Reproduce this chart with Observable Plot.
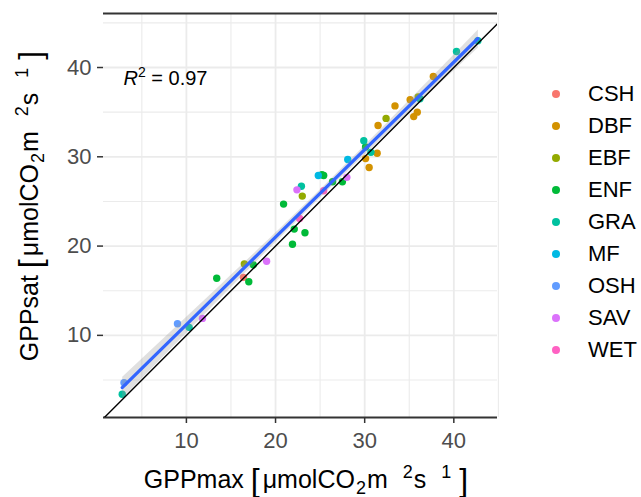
<!DOCTYPE html>
<html>
<head>
<meta charset="utf-8">
<script src="https://cdn.jsdelivr.net/npm/d3@7"></script>
<script src="https://cdn.jsdelivr.net/npm/@observablehq/plot@0.6"></script>
<style>
  body { margin: 0; background: #fff; font-family: "Liberation Sans", Arial, sans-serif; }
  #wrap { position: relative; width: 641px; height: 497px; overflow: hidden; }
  #legend { position: absolute; left: 0; top: 0; }
  .item { position: absolute; display: flex; align-items: center; height: 32px; font-size: 22px; color: #000; white-space: nowrap; }
  .dot { width: 8px; height: 8px; border-radius: 50%; margin-right: 28px; }
</style>
</head>
<body>
<div id="wrap"><div id="legend"></div></div>
<script>
// ---- data ----
const siteTypes = ["CSH", "DBF", "EBF", "ENF", "GRA", "MF", "OSH", "SAV", "WET"];
const typeColors = ["#F8766D", "#D39200", "#93AA00", "#00BA38", "#00C19F", "#00B9E3", "#619CFF", "#DB72FB", "#FF61C3"];

const siteType = [
  "CSH",
  "DBF", "DBF", "DBF", "DBF", "DBF", "DBF", "DBF", "DBF", "DBF",
  "EBF", "EBF", "EBF", "EBF",
  "ENF", "ENF", "ENF", "ENF", "ENF", "ENF", "ENF", "ENF", "ENF", "ENF", "ENF", "ENF",
  "GRA", "GRA", "GRA", "GRA", "GRA", "GRA", "GRA", "GRA",
  "MF", "MF",
  "OSH", "OSH",
  "SAV", "SAV", "SAV", "SAV",
  "WET", "WET"
];
const gppMax = [
  16.4,
  30.1, 30.5, 31.4, 31.5, 33.4, 35.1, 35.9, 35.5, 37.7,
  16.5, 23.0, 32.4, 36.0,
  13.4, 17.0, 17.5, 21.9, 22.1, 23.3, 20.9, 25.2, 25.4, 26.4, 27.5, 30.1,
  2.8, 10.3, 22.9, 29.9, 30.7, 36.2, 40.3, 42.7,
  24.8, 28.1,
  3.0, 9.0,
  11.8, 19.0, 22.4, 28.0,
  22.7, 25.4
];
const gppSat = [
  16.5,
  29.8, 28.8, 30.4, 33.5, 35.7, 36.4, 35.0, 34.5, 39.0,
  18.0, 25.6, 34.3, 36.7,
  16.4, 16.0, 17.9, 20.2, 21.9, 21.5, 24.7, 28.0, 27.9, 27.2, 27.2, 31.1,
  3.4, 10.9, 26.7, 31.8, 30.5, 36.5, 41.8, 43.0,
  27.9, 29.7,
  4.7, 11.3,
  11.9, 18.3, 26.3, 27.7,
  23.1, 26.2
];
const majorTicks = [10, 20, 30, 40];
const minorTicks = [5, 15, 25, 35, 45];
const xDomain = [0.7, 44.9];
const yDomain = [0.8, 46.05];
const r2Label = "R2 = 0.97";
const xTitle = "GPPmax";
const yTitle = "GPPsat";

// ---- build ----
const data = gppMax.map((x, i) => ({ x, y: gppSat[i], type: siteType[i] }));
const gridColor = "#EBEBEB";

const plot = Plot.plot({
  width: 641,
  height: 497,
  marginLeft: 103,
  marginRight: 144,
  marginTop: 13,
  marginBottom: 80,
  style: { fontFamily: "Liberation Sans, Arial, sans-serif", background: "#fff" },
  x: { domain: xDomain, label: null },
  y: { domain: yDomain, label: null },
  color: { domain: siteTypes, range: typeColors },
  marks: [
    Plot.gridX(minorTicks, { stroke: gridColor, strokeOpacity: 1, strokeWidth: 1.1 }),
    Plot.gridY(minorTicks, { stroke: gridColor, strokeOpacity: 1, strokeWidth: 1.1 }),
    Plot.gridX(majorTicks, { stroke: gridColor, strokeOpacity: 1, strokeWidth: 1.8 }),
    Plot.gridY(majorTicks, { stroke: gridColor, strokeOpacity: 1, strokeWidth: 1.8 }),
    Plot.axisX(majorTicks, { tickSize: 6, tickPadding: 9, fontSize: 22, fill: "#4D4D4D", stroke: "#333", strokeWidth: 1.5, label: null }),
    Plot.axisY(majorTicks, { tickSize: 6, tickPadding: 6, fontSize: 22, fill: "#4D4D4D", stroke: "#333", strokeWidth: 1.5, label: null }),
    Plot.ruleY([yDomain[0], yDomain[1]], { stroke: "#333", strokeWidth: 2 }),
    Plot.dot(data, { x: "x", y: "y", fill: "type", r: 3.7 }),
    Plot.linearRegressionY(data, { x: "x", y: "y", stroke: "#3366FF", strokeWidth: 3.2, fill: "#999999", fillOpacity: 0.3 }),
    Plot.line(xDomain, { x: d => d, y: d => d, stroke: "#000", strokeWidth: 1.4, clip: true }),
    Plot.text([r2Label], { frameAnchor: "top-left", dx: 20, dy: 57, fontSize: 20, fill: "#000", textAnchor: "start", lineAnchor: "top" })
  ]
});

document.getElementById("wrap").prepend(plot);

const svg = d3.select(plot);

// R² label with italic R and superscript
svg.selectAll('g[aria-label="text"] text').each(function () {
  const t = d3.select(this);
  t.text(null);
  t.append("tspan").attr("font-style", "italic").text("R");
  t.append("tspan").attr("font-size", 14).attr("dy", -8).text("2");
  t.append("tspan").attr("dy", 8).text(" = 0.97");
});

function unitTitle(t, name) {
  const small = 18, big = 32, gap = 15;
  t.append("tspan").text(name + " ");
  t.append("tspan").attr("font-size", big).attr("dy", 3).text("[");
  t.append("tspan").attr("dy", -3).attr("dx", 3).text("μmolCO");
  t.append("tspan").attr("font-size", small).attr("dy", 6).attr("dx", 1).text("2");
  t.append("tspan").attr("dy", -6).attr("dx", 1).text("m");
  t.append("tspan").attr("font-size", small).attr("dy", -10).attr("dx", gap).text("2");
  t.append("tspan").attr("dy", 10).attr("dx", 1).text("s");
  t.append("tspan").attr("font-size", small).attr("dy", -10).attr("dx", gap).text("1");
  t.append("tspan").attr("font-size", big).attr("dy", 13).attr("dx", 8).text("]");
}

const xt = svg.append("text")
  .attr("x", 306).attr("y", 488)
  .attr("text-anchor", "middle")
  .attr("font-size", 25).attr("fill", "#000");
unitTitle(xt, xTitle);

const yt = svg.append("text")
  .attr("transform", "translate(38,206) rotate(-90)")
  .attr("text-anchor", "middle")
  .attr("font-size", 25).attr("fill", "#000");
unitTitle(yt, yTitle);

// legend
const legend = d3.select("#legend");
siteTypes.forEach((s, i) => {
  const item = legend.append("div").attr("class", "item")
    .style("left", "552px")
    .style("top", (93.5 - 16 + i * 32.1) + "px");
  item.append("span").attr("class", "dot").style("background", typeColors[i]);
  item.append("span").text(s);
});
</script>
</body>
</html>
